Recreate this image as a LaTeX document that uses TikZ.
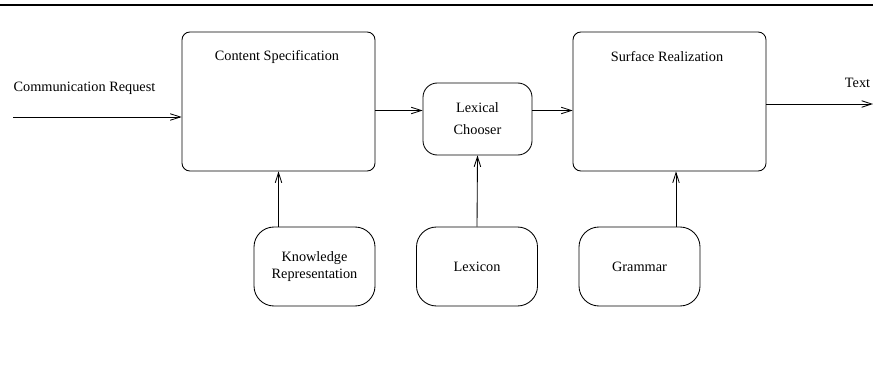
\documentclass[tikz,border=0pt]{standalone}
\usepackage{fontspec}
\setmainfont{Liberation Serif}
\usetikzlibrary{arrows.meta,calc}
\begin{document}
\begin{tikzpicture}[x=0.7pt, y=-0.7pt, >={Straight Barb[length=7pt,width=4.6pt]}, line width=0.6pt,
    bigbox/.style={draw, rounded corners=5.5pt, minimum width=135.1pt, minimum height=97.3pt},
    midbox/.style={draw, rounded corners=10pt, minimum width=76.3pt, minimum height=50.4pt, align=center},
    lowbox/.style={draw, rounded corners=14pt, minimum width=84.7pt, minimum height=55.3pt, align=center}]
\useasboundingbox (0,0) rectangle (873,366);
\draw[line width=1.8pt] (0,5)--(873,5);

\node[bigbox] (content) at (278.5,101.5) {};
\node[bigbox] (surface) at (669.5,101.5) {};
\node at (277,57) (contentlabel) {Content Specification};
\node at (667,57) (surfacelabel) {Surface Realization};
\node[midbox] (lexical) at (477.5,119) {Lexical\\[3.5pt]Chooser};
\node[lowbox] (knowledge) at (314.5,266.5) {Knowledge\\Representation};
\node[lowbox] (lexicon) at (477,266.5) {Lexicon};
\node[lowbox] (grammar) at (639.5,266.5) {Grammar};

\node at (84.5,88) (reqlabel) {Communication Request};
\node at (857.5,83) (textlabel) {Text};

\coordinate (req) at (13,117);
\draw[->] (req)--(req -| content.west);
\coordinate (c2l) at (content.east |- 0,110.5);
\draw[->] (c2l)--(c2l -| lexical.west);
\coordinate (l2s) at (lexical.east |- 0,110.5);
\draw[->] (l2s)--(l2s -| surface.west);
\coordinate (out) at (surface.east |- 0,104);
\coordinate (outend) at (873,104);
\draw[->] (out)--(outend);

\draw[->] (content.south |- knowledge.north)--(content.south);
\draw[->] (lexicon.north)--(lexical.south);
\coordinate (g) at (676,0);
\draw[->] (g |- grammar.north)--(g |- surface.south);
\end{tikzpicture}
\end{document}
